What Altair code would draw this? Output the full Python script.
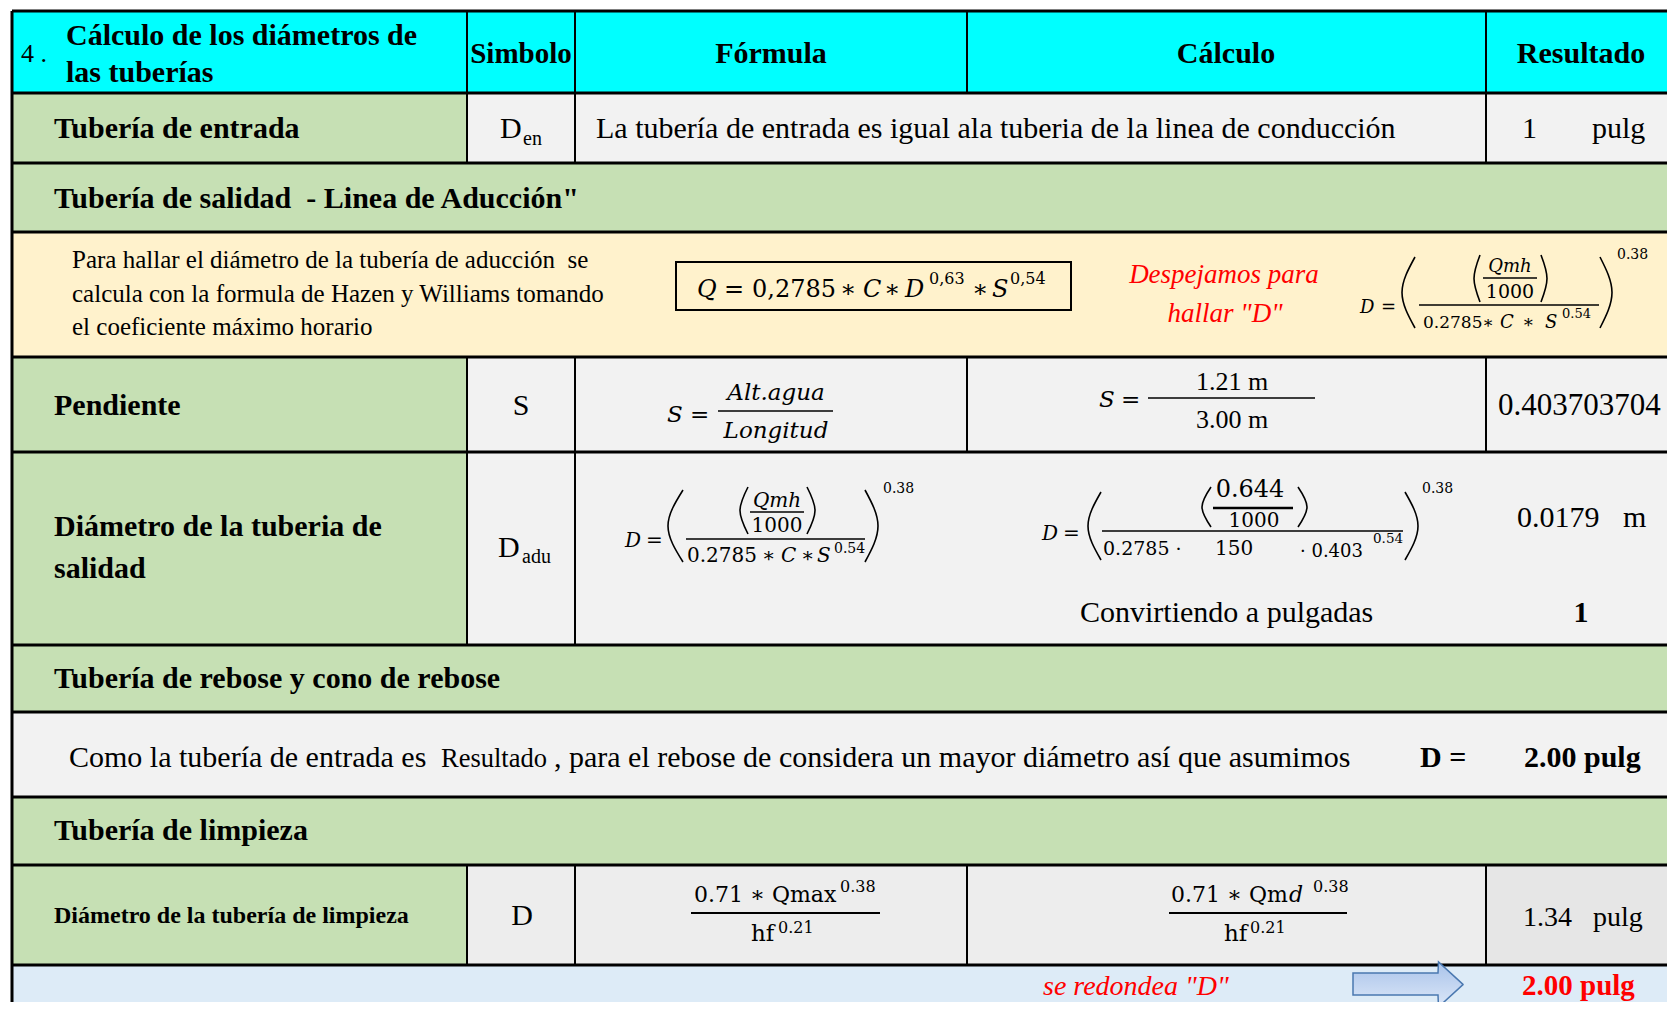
import altair as alt
import pandas as pd

# ----------------------------------------------------------------- content
title_lines = ["Cálculo de los diámetros de", "las tuberías"]
col_headers = ["Simbolo", "Fórmula", "Cálculo", "Resultado"]
row_labels = ["Tubería de entrada", "Pendiente", "Diámetro de la tuberia de", "salidad",
              "Diámetro de la tubería de limpieza"]
sections = ["Tubería de salidad\u00a0\u00a0- Linea de Aducción\"",
            "Tubería de rebose y cono de rebose", "Tubería de limpieza"]
note_entrada = "La tubería de entrada es igual ala tuberia de la linea de conducción"
note_hazen = ["Para hallar el diámetro de la tubería de aducción\u00a0\u00a0se",
              "calcula con la formula de Hazen y Williams tomando",
              "el coeficiente máximo horario"]
note_despeje = ["Despejamos para", "hallar \"D\""]
note_rebose = ["Como la tubería de entrada es", "Resultado",
               ", para el rebose de considera un mayor diámetro así que asumimos"]
note_convert = "Convirtiendo a pulgadas"
note_round = "se redondea \"D\""

d_entrada_pulg = 1
alt_agua_m = 1.21
longitud_m = 3.00
pendiente = 0.403703704
qmh = 0.644
coef_c = 150
pendiente_r = 0.403
d_salida_m = 0.0179
d_salida_pulg = 1
d_rebose_pulg = 2.00
d_limpieza_pulg = 1.34
d_limpieza_red = 2.00
hw_coef = "0,2785"
hw_exps = ["0,63", "0,54"]
exp_d = "0.38"
exp_s = "0.54"
exp_hf = "0.21"

# ----------------------------------------------------------------- styles / layout
FONT = "Liberation Serif, Times New Roman, DejaVu Serif, serif"
MATH = "DejaVu Serif, Liberation Serif, serif"
CYAN, GREEN, GRAY, YELLOW, BLUE = "#00FFFF", "#C6E0B4", "#F2F2F2", "#FFF2CC", "#DDEBF7"
GRAY2, GRAY3 = "#EDEDED", "#E6E6E6"
RED, BLACK = "#FF0000", "#000000"

W, H = 1659, 994
XS = alt.Scale(domain=[8, 8 + W], range=[0, W], nice=False, zero=False)
YS = alt.Scale(domain=[8, 8 + H], range=[0, H], nice=False, zero=False)

cx = [12, 467, 575, 967, 1486, 1690]            # column edges
ry = [11, 93, 163, 232, 357, 452, 645, 712, 797, 865, 965, 1020]  # row edges

cells = [
    (cx[0], cx[5], ry[0], ry[1], CYAN),
    (cx[0], cx[1], ry[1], ry[2], GREEN), (cx[1], cx[5], ry[1], ry[2], GRAY),
    (cx[0], cx[5], ry[2], ry[3], GREEN),
    (cx[0], cx[5], ry[3], ry[4], YELLOW),
    (cx[0], cx[1], ry[4], ry[5], GREEN), (cx[1], cx[5], ry[4], ry[5], GRAY),
    (cx[0], cx[1], ry[5], ry[6], GREEN), (cx[1], cx[5], ry[5], ry[6], GRAY),
    (cx[0], cx[5], ry[6], ry[7], GREEN),
    (cx[0], cx[5], ry[7], ry[8], GRAY),
    (cx[0], cx[5], ry[8], ry[9], GREEN),
    (cx[0], cx[1], ry[9], ry[10], GREEN), (cx[1], cx[4], ry[9], ry[10], GRAY2),
    (cx[4], cx[5], ry[9], ry[10], GRAY3),
    (cx[0], cx[5], ry[10], ry[11], BLUE),
]
cells_df = pd.DataFrame(cells, columns=["x1", "x2", "y1", "y2", "c"])

hlines_df = pd.DataFrame([(cx[0], cx[5], y) for y in ry[:-1]], columns=["x1", "x2", "y"])
vspans = [(cx[0], ry[0], ry[11], 3)]
for col in (cx[1], cx[2]):
    vspans += [(col, ry[0], ry[2], 2), (col, ry[4], ry[6], 2), (col, ry[9], ry[10], 2)]
vspans += [(cx[3], ry[0], ry[1], 2), (cx[3], ry[4], ry[5], 2), (cx[3], ry[9], ry[10], 2)]
vspans += [(cx[4], ry[0], ry[2], 2), (cx[4], ry[4], ry[5], 2), (cx[4], ry[9], ry[10], 2)]
vlines_df = pd.DataFrame(vspans, columns=["x", "y1", "y2", "w"])

# fraction bars: x1, x2, y, width
bars_df = pd.DataFrame([
    (1483, 1537, 278, 1.5), (1419, 1599, 305, 1.5),
    (718, 833, 411, 1.5), (1148, 1315, 398, 1.5),
    (750, 804, 512, 1.5), (686, 865, 539, 1.5),
    (1213, 1293, 508, 2.5), (1102, 1403, 531, 1.5),
    (691, 880, 913, 2), (1169, 1347, 913, 2),
], columns=["x1", "x2", "y", "w"])

# parentheses: (mid x, end x, top y, bottom y)
parens = [
    (1402, 1415, 257, 328), (1612, 1600, 257, 328),
    (1474, 1480, 255, 302), (1547, 1541, 255, 302),
    (668, 683, 490, 562), (878, 865, 490, 562),
    (740, 748, 487, 534), (815, 807, 487, 534),
    (1088, 1101, 492, 560), (1418, 1405, 492, 560),
    (1202, 1211, 487, 527), (1307, 1298, 487, 527),
]
prow = []
for g, (xm, xe, yt, yb) in enumerate(parens):
    prow += [(g, 0, xe, yt), (g, 1, xm, (yt + yb) / 2), (g, 2, xe, yb)]
paren_df = pd.DataFrame(prow, columns=["g", "o", "x", "y"])

qbox_df = pd.DataFrame([(676, 1071, 262, 310)], columns=["x1", "x2", "y1", "y2"])

arrow_df = pd.DataFrame([
    (1353, 973, 995), (1438, 973, 995), (1438.5, 962, 1007), (1463, 984.4, 984.6)
], columns=["x", "y", "y2"])

# text: (text, x, baseline y, size, kind, colour)
T = []
def add(t, x, y, s, kind="n-l", c=BLACK):
    T.append((t, x, y, s, kind, c))

# header
add("4 .", 21, 62, 26)
add(title_lines[0], 66, 45, 30, "b-l")
add(title_lines[1], 66, 82, 30, "b-l")
for h, xc, s in zip(col_headers, [521, 771, 1226, 1581], [29, 30, 30, 30]):
    add(h, xc, 63, s, "b-c")
# tubería de entrada
add(row_labels[0], 54, 138, 30, "b-l")
add("D", 500, 138, 30); add("en", 523, 145, 20)
add(note_entrada, 596, 138, 30)
add(str(d_entrada_pulg), 1522, 138, 30); add("pulg", 1592, 138, 30)
# section
add(sections[0], 54, 208, 30, "b-l")
# yellow row
for line, y in zip(note_hazen, [268, 302, 335]):
    add(line, 72, y, 25)
add("Q", 697, 297, 24, "mi-l"); add("=", 724, 297, 24, "m-l"); add(hw_coef, 752, 297, 24, "m-l")
add("∗", 840, 297, 24, "m-l"); add("C", 863, 297, 24, "mi-l"); add("∗", 884, 297, 24, "m-l")
add("D", 905, 297, 24, "mi-l"); add(hw_exps[0], 929, 284, 16, "m-l")
add("∗", 972, 297, 24, "m-l"); add("S", 992, 297, 24, "mi-l"); add(hw_exps[1], 1010, 284, 16, "m-l")
add(note_despeje[0], 1224, 283, 27, "i-c", RED)
add(note_despeje[1], 1225, 322, 27, "i-c", RED)
add("D", 1360, 313, 18, "mi-l"); add("=", 1381, 313, 18, "m-l")
add("Qmh", 1510, 272, 18, "mi-c"); add("1000", 1510, 298, 19, "m-c")
add("0.2785∗", 1423, 328, 17, "m-l"); add("C", 1500, 328, 18, "mi-l"); add("∗", 1522, 328, 18, "m-l")
add("S", 1545, 328, 18, "mi-l"); add(exp_s, 1562, 318, 13, "m-l")
add(exp_d, 1617, 259, 14, "m-l")
# pendiente
add(row_labels[1], 54, 415, 30, "b-l")
add("S", 521, 415, 30, "n-c")
add("S", 667, 422, 23, "mi-l"); add("=", 690, 422, 23, "m-l")
add("Alt.agua", 776, 400, 23, "mi-c"); add("Longitud", 776, 438, 23, "mi-c")
add("S", 1099, 407, 23, "mi-l"); add("=", 1121, 407, 23, "m-l")
add(f"{alt_agua_m:.2f} m", 1232, 390, 26, "n-c"); add(f"{longitud_m:.2f} m", 1232, 428, 26, "n-c")
add(f"{pendiente:.9f}", 1498, 415, 31)
# diámetro de salida
add(row_labels[2], 54, 536, 30, "b-l"); add(row_labels[3], 54, 578, 30, "b-l")
add("D", 498, 557, 30); add("adu", 522, 563, 20)
add("D", 625, 547, 20, "mi-l"); add("=", 646, 547, 20, "m-l")
add("Qmh", 777, 507, 20, "mi-c"); add("1000", 777, 532, 20, "m-c")
add("0.2785", 687, 562, 20, "m-l"); add("∗", 762, 562, 20, "m-l"); add("C", 781, 562, 20, "mi-l")
add("∗", 801, 562, 20, "m-l"); add("S", 817, 562, 20, "mi-l"); add(exp_s, 834, 553, 14, "m-l")
add(exp_d, 883, 493, 14, "m-l")
add("D", 1042, 540, 20, "mi-l"); add("=", 1063, 540, 20, "m-l")
add(f"{qmh}", 1250, 497, 24, "m-c"); add("1000", 1254, 527, 20, "m-c")
add("0.2785 ·", 1103, 555, 19, "m-l"); add(str(coef_c), 1215, 555, 20, "m-l")
add(f"· {pendiente_r}", 1300, 557, 18, "m-l"); add(exp_s, 1373, 543, 13.5, "m-l")
add(exp_d, 1422, 493, 14, "m-l")
add(f"{d_salida_m}", 1517, 527, 30); add("m", 1623, 527, 30)
add(note_convert, 1080, 622, 30)
add(str(d_salida_pulg), 1581, 622, 30, "b-c")
# rebose
add(sections[1], 54, 688, 30, "b-l")
add(note_rebose[0], 69, 767, 30); add(note_rebose[1], 441, 767, 26.5); add(note_rebose[2], 554, 767, 30)
add("D =", 1420, 767, 30, "b-l"); add(f"{d_rebose_pulg:.2f} pulg", 1524, 767, 30, "b-l")
# limpieza
add(sections[2], 54, 840, 30, "b-l")
add(row_labels[4], 54, 923, 24, "b-l")
add("D", 522, 925, 30, "n-c")
add("0.71 ∗ Qmax", 694, 902, 22, "m-l"); add(exp_d, 840, 892, 16, "m-l")
add("hf", 751, 941, 23, "m-l"); add(exp_hf, 778, 933, 16, "m-l")
add("0.71 ∗ Qm", 1171, 902, 22, "m-l"); add("d", 1289, 902, 22, "mi-l"); add(exp_d, 1313, 892, 16, "m-l")
add("hf", 1224, 941, 23, "m-l"); add(exp_hf, 1250, 933, 16, "m-l")
add(f"{d_limpieza_pulg:.2f}", 1523, 926, 28); add("pulg", 1593, 926, 28)
add(note_round, 1043, 995, 28, "i-l", RED)
add(f"{d_limpieza_red:.2f} pulg", 1522, 995, 29, "b-l", RED)

text_df = pd.DataFrame(T, columns=["t", "x", "y", "s", "k", "c"])

# ----------------------------------------------------------------- chart
X = lambda f="x": alt.X(f"{f}:Q", scale=XS, axis=None)
Y = lambda f="y": alt.Y(f"{f}:Q", scale=YS, axis=None)

cells_layer = alt.Chart(cells_df).mark_rect(strokeWidth=0).encode(
    x=X("x1"), x2="x2:Q", y=Y("y1"), y2="y2:Q", color=alt.Color("c:N", scale=None, legend=None))
qbox_layer = alt.Chart(qbox_df).mark_rect(fill=None, stroke=BLACK, strokeWidth=2).encode(
    x=X("x1"), x2="x2:Q", y=Y("y1"), y2="y2:Q")
hline_layer = alt.Chart(hlines_df).mark_rule(color=BLACK, strokeWidth=3).encode(
    x=X("x1"), x2="x2:Q", y=Y("y"))
vline_layer = alt.Chart(vlines_df).mark_rule(color=BLACK).encode(
    x=X("x"), y=Y("y1"), y2="y2:Q", strokeWidth=alt.StrokeWidth("w:Q", scale=None, legend=None))
bar_layer = alt.Chart(bars_df).mark_rule(color=BLACK).encode(
    x=X("x1"), x2="x2:Q", y=Y("y"), strokeWidth=alt.StrokeWidth("w:Q", scale=None, legend=None))
paren_layer = alt.Chart(paren_df).mark_line(interpolate="natural", color=BLACK, strokeWidth=1.6).encode(
    x=X("x"), y=Y("y"), detail="g:N", order="o:Q")
arrow_layer = alt.Chart(arrow_df).mark_area(
    fill=alt.Gradient(gradient="linear", x1=0, x2=0, y1=0, y2=1,
                      stops=[alt.GradientStop(color="#A9C3EA", offset=0),
                             alt.GradientStop(color="#DCE7F8", offset=1)]),
    stroke="#4A78B0", strokeWidth=1.5, orient="vertical").encode(x=X("x"), y=Y("y"), y2="y2:Q")

kinds = {"n-l": (FONT, "normal", "normal", "left"), "n-c": (FONT, "normal", "normal", "center"),
         "b-l": (FONT, "bold", "normal", "left"), "b-c": (FONT, "bold", "normal", "center"),
         "i-l": (FONT, "normal", "italic", "left"), "i-c": (FONT, "normal", "italic", "center"),
         "m-l": (MATH, "normal", "normal", "left"), "m-c": (MATH, "normal", "normal", "center"),
         "mi-l": (MATH, "normal", "italic", "left"), "mi-c": (MATH, "normal", "italic", "center")}
text_layers = []
for k, (fnt, w, st, al) in kinds.items():
    sub = text_df[text_df["k"] == k]
    if sub.empty:
        continue
    text_layers.append(alt.Chart(sub).mark_text(
        font=fnt, fontWeight=w, fontStyle=st, align=al, baseline="alphabetic").encode(
        x=X("x"), y=Y("y"), text="t:N",
        size=alt.Size("s:Q", scale=None, legend=None),
        color=alt.Color("c:N", scale=None, legend=None)))

chart = alt.layer(cells_layer, qbox_layer, hline_layer, vline_layer, bar_layer, paren_layer,
                  arrow_layer, *text_layers).properties(
    width=W, height=H, padding=0, autosize=alt.AutoSizeParams(type="none"),
    background="white").configure_view(stroke=None)

chart.save("out.html", embed_options={"renderer": "svg", "actions": False})
